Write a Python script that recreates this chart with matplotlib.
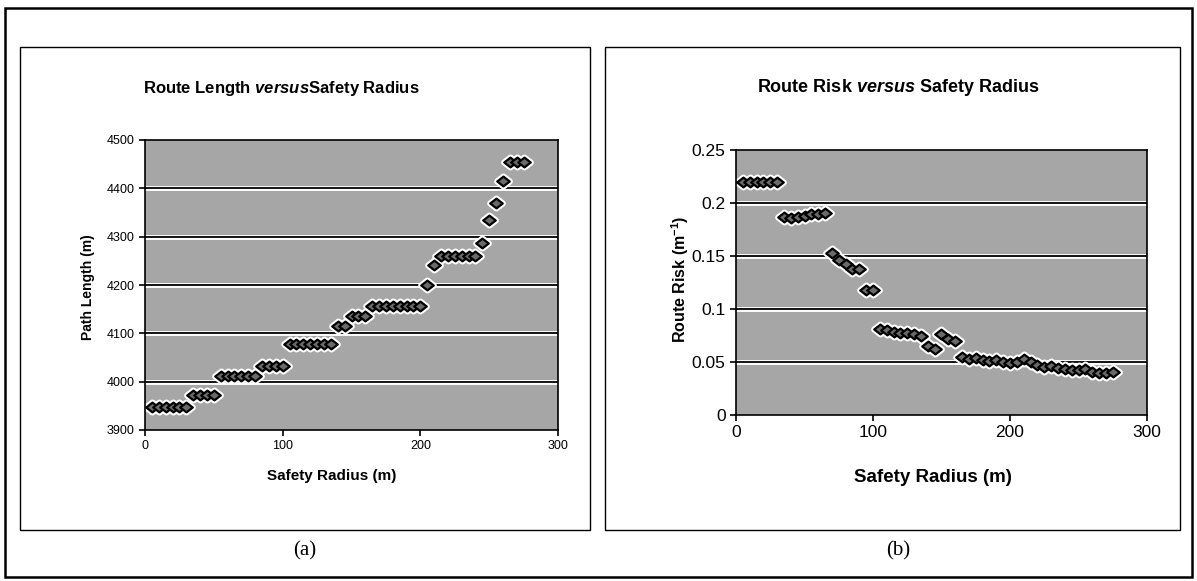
import matplotlib
matplotlib.use('Agg')
import matplotlib.pyplot as plt
import matplotlib.patheffects as pe
from matplotlib.patches import Rectangle
from matplotlib.path import Path

plt.rcParams['font.family'] = ['Liberation Sans', 'DejaVu Sans']
plt.rcParams['mathtext.fontset'] = 'custom'
plt.rcParams['mathtext.rm'] = 'Liberation Sans:bold'
plt.rcParams['mathtext.it'] = 'Liberation Sans:italic:bold'
plt.rcParams['mathtext.bf'] = 'Liberation Sans:bold'

# safety radius (m)
radius = [5, 10, 15, 20, 25, 30, 35, 40, 45, 50, 55, 60, 65, 70, 75, 80, 85, 90, 95, 100,
          105, 110, 115, 120, 125, 130, 135, 140, 145, 150, 155, 160, 165, 170, 175, 180,
          185, 190, 195, 200, 205, 210, 215, 220, 225, 230, 235, 240, 245, 250, 255, 260,
          265, 270, 275]

# path length (m) for each radius
path_len = [3948, 3948, 3948, 3948, 3948, 3948, 3972, 3972, 3972, 3972, 4012, 4012, 4012, 4012,
            4012, 4012, 4032, 4032, 4032, 4032, 4077, 4077, 4077, 4077, 4077, 4077, 4077, 4115,
            4115, 4135, 4135, 4136, 4156, 4156, 4156, 4156, 4156, 4156, 4156, 4156, 4200, 4241,
            4260, 4260, 4260, 4260, 4260, 4260, 4286, 4334, 4369, 4416, 4455, 4455, 4455]

# route risk (1/m) for each radius
risk = [0.220, 0.220, 0.220, 0.220, 0.220, 0.220, 0.187, 0.186, 0.187, 0.188, 0.190, 0.190,
        0.191, 0.153, 0.146, 0.142, 0.138, 0.138, 0.118, 0.118, 0.081, 0.080, 0.078, 0.077,
        0.077, 0.076, 0.075, 0.065, 0.062, 0.076, 0.072, 0.070, 0.055, 0.053, 0.054, 0.052,
        0.051, 0.052, 0.050, 0.049, 0.050, 0.053, 0.050, 0.047, 0.045, 0.046, 0.044, 0.043,
        0.042, 0.042, 0.043, 0.041, 0.040, 0.040, 0.041]

W, H = 1197, 581
fig = plt.figure(figsize=(W / 100, H / 100), dpi=100)


def fx(px):
    return px / W


def fy(py):
    return 1 - py / H


# outer frame and the two panel boxes
fig.add_artist(Rectangle((fx(5), fy(577)), fx(1187), 569 / H, transform=fig.transFigure,
                         fill=False, lw=1.8, ec='black'))
for x0, w in [(20, 570), (605, 575)]:
    fig.add_artist(Rectangle((fx(x0), fy(530)), fx(w), 483 / H, transform=fig.transFigure,
                             fill=False, lw=1.0, ec='black'))

bg = '#a6a6a6'
halo = [pe.withStroke(linewidth=3.5, foreground='white')]
# slightly flattened diamond
diamond = Path([(-1, 0), (0, 0.78), (1, 0), (0, -0.78), (-1, 0)],
               [Path.MOVETO, Path.LINETO, Path.LINETO, Path.LINETO, Path.CLOSEPOLY])


def style(ax, yticks):
    ax.set_facecolor(bg)
    for s in ax.spines.values():
        s.set_linewidth(1.2)
    for t in yticks[1:-1]:
        ax.axhline(t, color='black', lw=1.3, zorder=1, path_effects=halo)
    ax.tick_params(direction='out', length=4, width=1.2, color='black')


def draw_points(ax, x, y):
    # white outline under the whole chain, then the diamonds on top
    ax.plot(x, y, ls='none', marker=diamond, ms=9, mfc='white', mec='white', mew=4.5, zorder=2)
    ax.plot(x, y, ls='none', marker=diamond, ms=9, mfc='#6a6a6a', mec='black', mew=1.6, zorder=3)


# (a) route length
ax1 = fig.add_axes([fx(145), fy(430), fx(413), 290 / H])
ax1.set_xlim(0, 300)
ax1.set_ylim(3900, 4500)
y1ticks = [3900, 4000, 4100, 4200, 4300, 4400, 4500]
ax1.set_xticks([0, 100, 200, 300])
ax1.set_yticks(y1ticks)
style(ax1, y1ticks)
ax1.tick_params(labelsize=9)
draw_points(ax1, radius, path_len)

fig.text(fx(281), fy(88), r'Route Length $\mathit{versus}$Safety Radius', fontsize=12,
         fontweight='bold', ha='center', va='center')
fig.text(fx(332), fy(476), 'Safety Radius (m)', fontsize=11, fontweight='bold',
         ha='center', va='center')
fig.text(fx(88), fy(287), 'Path Length (m)', fontsize=10, fontweight='bold',
         ha='center', va='center', rotation=90)

# (b) route risk
ax2 = fig.add_axes([fx(736), fy(415), fx(411), 265 / H])
ax2.set_xlim(0, 300)
ax2.set_ylim(0, 0.25)
y2ticks = [0, 0.05, 0.1, 0.15, 0.2, 0.25]
ax2.set_xticks([0, 100, 200, 300])
ax2.set_yticks(y2ticks)
ax2.set_yticklabels(['0', '0.05', '0.1', '0.15', '0.2', '0.25'])
style(ax2, y2ticks)
ax2.tick_params(labelsize=12.5)
draw_points(ax2, radius, risk)

fig.text(fx(898), fy(88), r'Route Risk $\mathit{versus}$ Safety Radius', fontsize=13,
         fontweight='bold', ha='center', va='center')
fig.text(fx(933), fy(477), 'Safety Radius (m)', fontsize=13.5, fontweight='bold',
         ha='center', va='center')
fig.text(fx(680), fy(279), r'Route Risk (m$^{-1}$)', fontsize=11.5, fontweight='bold',
         ha='center', va='center', rotation=90)

fig.text(fx(305), fy(551), '(a)', family='Liberation Serif', fontsize=15,
         ha='center', va='center')
fig.text(fx(898), fy(551), '(b)', family='Liberation Serif', fontsize=15,
         ha='center', va='center')

fig.savefig('out.png', dpi=100)
